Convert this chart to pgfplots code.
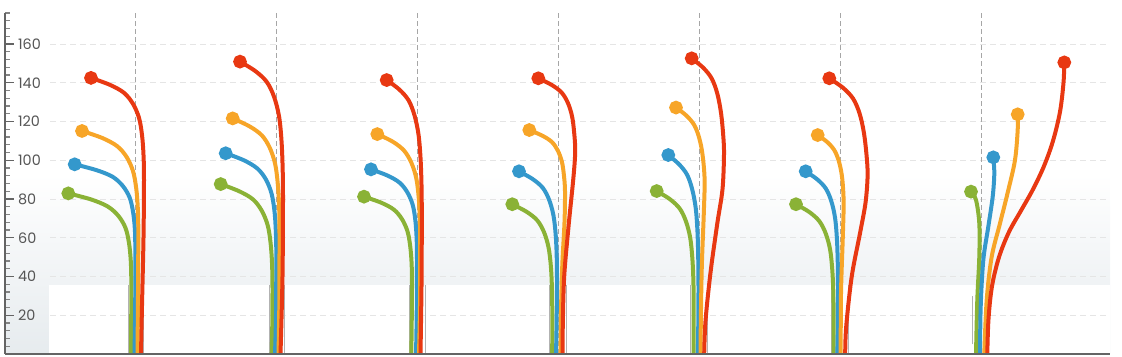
\documentclass[border=0pt]{standalone}
\usepackage{fontspec}
\setmainfont{Poppins}
\usepackage{pgfplots}
\pgfplotsset{compat=1.18}
\definecolor{cgreen}{RGB}{138,178,54}
\definecolor{cblue}{RGB}{52,152,204}
\definecolor{corange}{RGB}{247,165,40}
\definecolor{cred}{RGB}{232,56,18}
\definecolor{axgray}{RGB}{100,100,100}
\definecolor{lblgray}{RGB}{85,85,85}
\definecolor{bggray}{RGB}{230,235,238}
\pgfplotsset{
  stem/.style={line width=3pt, smooth, tension=0.55, mark=*, mark size=3.6pt, mark indices={1}, mark options={solid}},
  shadow/.style={line width=0.5pt, draw=black!30},
}
\begin{document}
\begin{tikzpicture}
\begin{axis}[
  scale only axis,
  width=828.75pt, height=255.75pt,
  xmin=5, xmax=1110, ymin=0, ymax=176,
  axis on top,
  axis x line*=bottom, axis y line*=left,
  x axis line style={line width=2.2pt, draw=axgray},
  y axis line style={line width=1.5pt, draw=axgray},
  xtick=\empty,
  ytick={20,40,...,160},
  minor ytick={4,8,...,176},
  tick align=inside,
  major tick length=7pt, minor tick length=4pt,
  major tick style={line width=1pt, draw=axgray},
  minor tick style={line width=0.8pt, draw=axgray!80},
  yticklabel style={anchor=west, xshift=6.3pt, font=\fontsize{10.8}{12}\selectfont, text=lblgray},
  /pgf/number format/assume math mode=true,
  clip=false,
]
% background
\fill[top color=white, bottom color=bggray] (axis cs:5,0) rectangle (axis cs:1110,93);
\fill[white] (axis cs:49,0) rectangle (axis cs:1110,35.6);
% horizontal grid
\foreach \yy in {20,40,...,160} {
  \edef\tmp{\noexpand\draw[dash pattern=on 4.5pt off 3pt, line width=0.6pt, draw=black!10] (axis cs:50,\yy) -- (axis cs:1110,\yy);}\tmp
}
% vertical dashed
\foreach \xx in {135,276,417,558,699,840,981} {
  \edef\tmp{\noexpand\draw[dash pattern=on 3.5pt off 2.5pt, line width=0.7pt, draw=black!35] (axis cs:\xx,0) -- (axis cs:\xx,176);}\tmp
}
% faint base outlines
\addplot[shadow] coordinates {(128.3,0) (128.3,35.6)};
\addplot[shadow] coordinates {(143.5,0) (143.5,35.6)};
\addplot[shadow] coordinates {(269,0) (269,35.6)};
\addplot[shadow] coordinates {(284,0) (284,35.6)};
\addplot[shadow] coordinates {(409,0) (409,35.6)};
\addplot[shadow] coordinates {(425,0) (425,35.6)};
\addplot[shadow] coordinates {(549.5,0) (549.5,35.6)};
\addplot[shadow] coordinates {(566,0) (566,35.6)};
\addplot[shadow] coordinates {(690.5,0) (690.5,35.6)};
\addplot[shadow] coordinates {(707,0) (707,35.6)};
\addplot[shadow] coordinates {(831,0) (831,35.6)};
\addplot[shadow] coordinates {(848,0) (848,35.6)};
\addplot[shadow] coordinates {(972.5,5) (972.5,30)};
% Group 1
\addplot[stem, cgreen] coordinates {(68.3,82.9) (90.9,79.8) (107.5,76.2) (118.2,71.4) (125.4,65.2) (128.9,57.6) (130.7,48.7) (131.3,37.7) (131.2,15) (131,0)};
\addplot[stem, cblue] coordinates {(74.7,97.9) (96.4,94.9) (112.5,91.5) (122.7,86.8) (129.6,80.8) (133,73.5) (134.8,64.9) (135.3,54.2) (135.2,25) (134.5,0)};
\addplot[stem, corange] coordinates {(82,115.1) (102.2,111.5) (117.1,107.3) (126.6,101.7) (133,94.4) (136.2,85.6) (137.8,75.3) (138.3,62.4) (138,30) (137.5,0)};
\addplot[stem, cred] coordinates {(91,142.5) (110,138.9) (124,134.8) (133,129.1) (139,121.9) (142,113.1) (143.5,102.8) (144,89.9) (143.5,60) (142,25) (141,0)};
% Group 2
\addplot[stem, cgreen] coordinates {(220.7,87.7) (239.2,84) (253,79.8) (261.7,74) (267.6,66.6) (270.5,57.7) (272,47.2) (272.5,34) (272.2,12) (271.7,0)};
\addplot[stem, cblue] coordinates {(225.7,103.6) (243.8,100) (257.2,95.8) (265.8,90.2) (271.5,82.9) (274.4,74.1) (275.8,63.8) (276.3,50.9) (276,20) (275,0)};
\addplot[stem, corange] coordinates {(232.7,121.6) (249.5,117.5) (261.9,112.8) (269.8,106.4) (275.1,98.2) (277.7,88.3) (279.1,76.6) (279.5,61.9) (279.3,25) (278.5,0)};
\addplot[stem, cred] coordinates {(240,150.9) (255.4,146) (266.8,140.4) (274.1,132.7) (279,122.8) (281.4,110.9) (282.6,96.8) (283,79.3) (282.5,40) (280.5,0)};
% Group 3
\addplot[stem, cgreen] coordinates {(364,81.2) (381.2,78.1) (393.9,74.5) (402,69.6) (407.5,63.3) (410.2,55.7) (411.6,46.8) (412,35.6) (411.7,15) (411.3,0)};
\addplot[stem, cblue] coordinates {(371,95.3) (387.5,92.1) (399.7,88.4) (407.4,83.4) (412.7,77) (415.3,69.2) (416.6,60) (417,48.5) (416.7,20) (416,0)};
\addplot[stem, corange] coordinates {(377.3,113.5) (392.7,109.6) (404,105) (411.3,98.8) (416.2,90.9) (418.6,81.4) (419.8,70.1) (420.2,55.9) (420,25) (419,0)};
\addplot[stem, cred] coordinates {(386.7,141.4) (399.3,136.5) (408.6,130.9) (414.5,123.2) (418.5,113.3) (420.5,101.4) (421.5,87.3) (421.8,69.8) (421.5,35) (420.5,0)};
% Group 4
\addplot[stem, cgreen] coordinates {(512.3,77.3) (526.6,73.4) (537.2,69) (544,62.9) (548.5,55.1) (550.8,45.7) (551.9,34.6) (552.3,20.7) (552.2,0)};
\addplot[stem, cblue] coordinates {(519,94.3) (532.6,90.3) (542.7,85.8) (549.1,79.6) (553.4,71.7) (555.6,62.1) (556.7,50.7) (557,36.5) (556.6,15) (556,0)};
\addplot[stem, corange] coordinates {(529.3,115.6) (542.2,112.7) (551.7,109.5) (557.8,105) (561.9,99.2) (563.9,92.3) (565,84.1) (564.5,68) (562.3,46) (561,22) (560.7,0)};
\addplot[stem, cred] coordinates {(538.3,142.3) (551.6,138.9) (561.5,135) (567.8,129.7) (572,122.8) (574.1,114.6) (575.2,104.8) (573.5,91.5) (568.5,65.7) (564.2,40) (562.8,15) (562.7,0)};
% Group 5
\addplot[stem, cgreen] coordinates {(656.7,84.1) (669.9,79.9) (679.8,75) (686,68.4) (690.2,60) (692.3,49.7) (693.4,37.6) (693.7,22.5) (693.5,0)};
\addplot[stem, cblue] coordinates {(668.3,102.7) (679.1,97.9) (687.1,92.5) (692.2,85) (695.7,75.4) (697.4,63.9) (698.2,50.2) (698.5,33.2) (698.2,12) (697.8,0)};
\addplot[stem, corange] coordinates {(676,127.2) (686.5,123) (694.3,118.1) (699.2,111.5) (702.5,103) (704.6,90) (703.8,72.6) (701.8,45) (700.8,16) (700.7,0)};
\addplot[stem, cred] coordinates {(691.7,152.6) (703.3,147.7) (711.8,142.1) (717.3,134.4) (721,124.5) (723.2,113) (724,103) (722.5,85) (717.3,67.4) (710.5,42) (705.5,17) (704.2,0)};
% Group 6
\addplot[stem, cgreen] coordinates {(796,77.3) (809.5,73.2) (819.4,68.5) (825.8,62.1) (830.1,53.9) (832.2,44) (833.3,32.3) (833.6,17.6) (833.5,0)};
\addplot[stem, cblue] coordinates {(805.7,94.3) (817.3,90.1) (825.8,85.4) (831.3,78.9) (835,70.5) (836.8,60.4) (837.7,48.5) (838,33.7) (837.8,12) (837.3,0)};
\addplot[stem, corange] coordinates {(817.7,113) (827.2,109.4) (834.3,105.2) (838.8,99.6) (841.8,92.3) (843.3,83.5) (843.6,75) (842.7,58.8) (841,31.3) (840.7,0)};
\addplot[stem, cred] coordinates {(829.3,142.3) (843,137.4) (853.1,131.8) (859.6,124.1) (863.9,114.2) (866.6,102.3) (867.6,92) (865.5,78) (860,62.3) (851.7,39.9) (846.2,14.1) (845.2,0)};
% Group 7
\addplot[stem, cgreen] coordinates {(971,83.8) (976,79.5) (979.3,67.4) (979.3,50.2) (977.3,27.9) (976,0)};
\addplot[stem, cblue] coordinates {(993.3,101.5) (994.3,93.2) (992.7,81.2) (988.3,65.7) (983.3,48.5) (980.7,24.4) (980,0)};
\addplot[stem, corange] coordinates {(1017.7,123.7) (1017.7,115.6) (1015,100.1) (1008.3,84.6) (1000,67.4) (991.7,50.2) (986.7,27.9) (984.3,0)};
\addplot[stem, cred] coordinates {(1064.3,150.5) (1063.5,140) (1060,125) (1053,110) (1044,97) (1033,85) (1021,74) (1009,63) (999,50) (992,35) (988.5,18) (987.3,0)};
\end{axis}
\pgfresetboundingbox
\path ([shift={(-3.75pt,-2.25pt)}]current axis.south west) rectangle ([shift={(9pt,9.75pt)}]current axis.north east);
\end{tikzpicture}
\end{document}
